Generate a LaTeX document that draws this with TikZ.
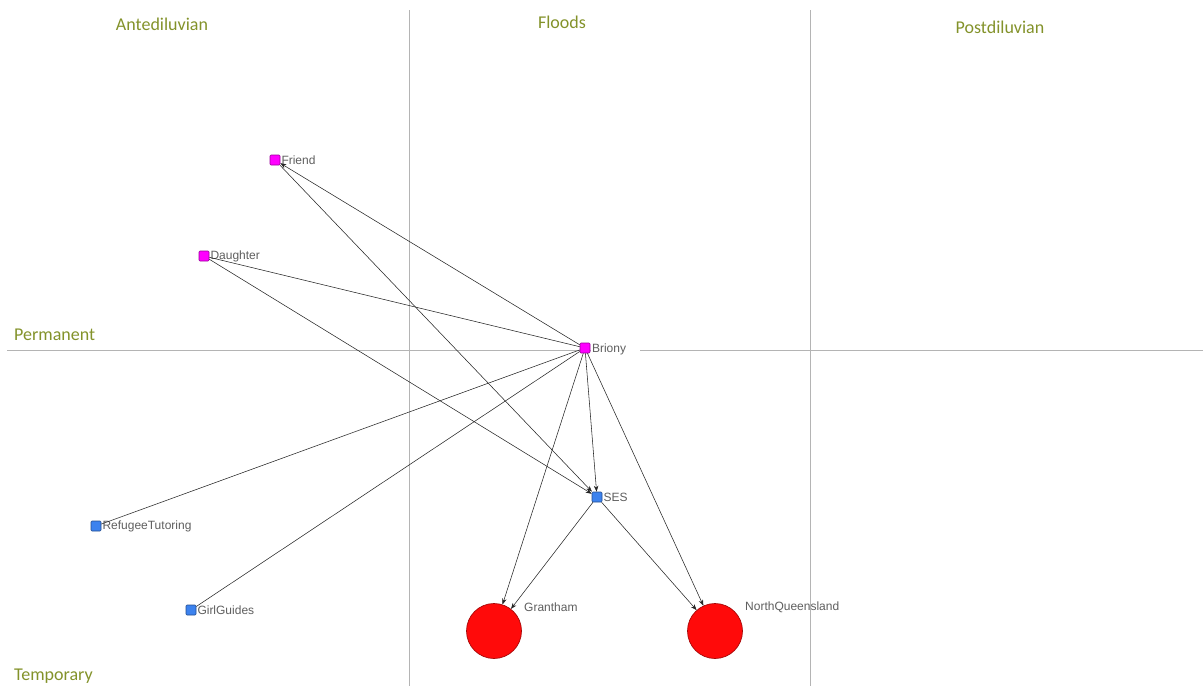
\documentclass[tikz,border=0pt]{standalone}
\usepackage{fontspec}
\setmainfont{Liberation Sans}
\newfontfamily\hdrfont{Carlito}
\definecolor{ndMagenta}{HTML}{FF00FF}
\definecolor{ndBlue}{HTML}{3C82EE}
\definecolor{ndRed}{HTML}{FF0A0A}
\definecolor{hdrOlive}{HTML}{83922A}
\definecolor{lblGray}{HTML}{5E5E5E}
\definecolor{axisGray}{HTML}{B4B4B4}
\usetikzlibrary{positioning,arrows.meta}

\tikzset{
  actor/.style={rectangle, draw=#1!60!black, fill=#1, line width=0.6pt,
    minimum size=10pt, inner sep=0pt, rounded corners=1pt},
  place/.style={circle, draw=ndRed!65!black, fill=ndRed, line width=0.7pt,
    minimum size=55pt, inner sep=0pt},
  lbl/.style={text=lblGray, font=\fontsize{12}{12}\selectfont, inner sep=1pt},
  hdr/.style={text=hdrOlive, font=\hdrfont\fontsize{18}{18}\selectfont, inner sep=0pt},
  tie/.style={draw=black!85, line width=0.55pt},
  dtie/.style={tie, -{Stealth[length=6pt,width=4.5pt]}},
  axis/.style={draw=axisGray, line width=0.8pt}
}

\begin{document}
\begin{tikzpicture}[x=1pt, y=-1pt]
  \useasboundingbox (0,0) rectangle (1203,686);
  % quadrant lines
  \draw[axis] (409,10) -- (409,686);
  \draw[axis] (810,10) -- (810,686);
  \draw[axis] (7,350) -- (1203,350);

  % period and status headers
  \node[hdr] (hAnte) at (162,24) {Antediluvian};
  \node[hdr] (hFlood) at (562,22) {Floods};
  \node[hdr] (hPost) at (1000,27) {Postdiluvian};
  \node[hdr, anchor=west] (hPerm) at (14,335) {Permanent};
  \node[hdr, anchor=west] (hTemp) at (14,676) {Temporary};

  % actors
  \node[actor=ndMagenta] (friend) at (275,160) {};
  \node[actor=ndMagenta] (daughter) at (204,256) {};
  \node[actor=ndMagenta] (briony) at (585,348) {};
  \node[actor=ndBlue] (ses) at (597,497) {};
  \node[actor=ndBlue] (refugee) at (96,526) {};
  \node[actor=ndBlue] (guides) at (191,610) {};
  \node[place] (grantham) at (494,631) {};
  \node[place] (nq) at (715,631) {};

  % labels
  \node[lbl, right=0pt of briony, fill=white, inner xsep=1.5pt, text depth=0pt] (brionyT) {\makebox[46pt][l]{Briony}};
  \node[lbl, right=0pt of friend] (friendT) {Friend};
  \node[lbl, right=0pt of daughter] (daughterT) {Daughter};
  \node[lbl, right=0pt of ses] (sesT) {SES};
  \node[lbl, right=0pt of refugee] (refugeeT) {RefugeeTutoring};
  \node[lbl, right=0pt of guides] (guidesT) {GirlGuides};
  \node[lbl, anchor=west] (granthamT) at (523,607) {Grantham};
  \node[lbl, anchor=west] (nqT) at (744,607) {NorthQueensland};

  % ties
  \draw[dtie] (briony) -- (friend);
  \draw[tie] (briony) -- (daughter);
  \draw[tie] (briony) -- (refugee);
  \draw[tie] (briony) -- (guides);
  \draw[dtie] (briony) -- (ses);
  \draw[dtie] (friend) -- (ses);
  \draw[dtie] (daughter) -- (ses);
  \draw[dtie] (briony) -- (grantham);
  \draw[dtie] (briony) -- (nq);
  \draw[dtie] (ses) -- (grantham);
  \draw[dtie] (ses) -- (nq);
\end{tikzpicture}
\end{document}
